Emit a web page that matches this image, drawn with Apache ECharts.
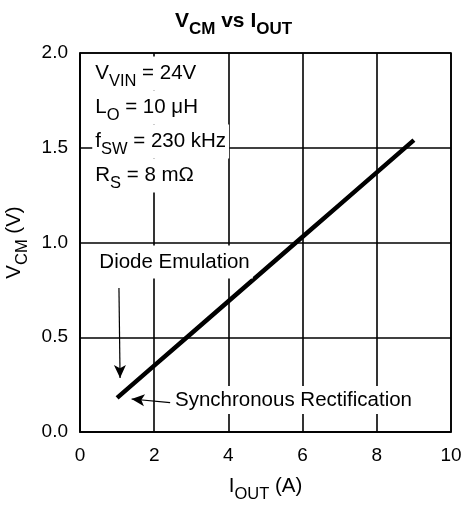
<!DOCTYPE html>
<html><head><meta charset="utf-8">
<script src="https://cdn.jsdelivr.net/npm/echarts@6/dist/echarts.min.js"></script>
<style>html,body{margin:0;padding:0;background:#fff}#c{width:467px;height:507px}</style>
</head><body><div id="c"></div>
<script>
// ---- data ----
const currentA = [1, 2, 3, 4, 5, 6, 7, 8, 9];
const vcmV = [0.18, 0.35, 0.52, 0.69, 0.86, 1.03, 1.20, 1.37, 1.54];
const xTicks = [0, 2, 4, 6, 8, 10];
const yTicks = [0.0, 0.5, 1.0, 1.5, 2.0];
const conditions = [['V', 'VIN', ' = 24V'], ['L', 'O', ' = 10 μH'], ['f', 'SW', ' = 230 kHz'], ['R', 'S', ' = 8 mΩ']];
const labelDiode = 'Diode Emulation';
const labelSync = 'Synchronous Rectification';

// ---- annotation placement (data coordinates) ----
const condAnchor = {x: 0.33, y: [1.892, 1.712, 1.533, 1.354]};
const diodeAnchor = [0.44, 0.897];
const syncAnchor = [2.48, 0.169];
const diodeArrow = [[1.05, 0.76], [1.08, 0.285]];
const syncArrow = [[2.43, 0.155], [1.39, 0.174]];

const FONT = '"Liberation Sans", Arial, Helvetica, sans-serif';
const richSub = (main, sub, lh, bold) => ({
  m: {fontSize: main, lineHeight: lh, color: '#000', fontFamily: FONT, fontWeight: bold ? 'bold' : 'normal'},
  s: {fontSize: sub, lineHeight: sub, padding: [16, 0, 0, 0], color: '#000', fontFamily: FONT, fontWeight: bold ? 'bold' : 'normal'}
});

const chart = echarts.init(document.getElementById('c'), null, {renderer: 'canvas'});
const option = {
  animation: false,
  backgroundColor: '#fff',
  title: {
    text: '{m|V}{s|CM}{m| vs I}{s|OUT}',
    left: 'center', top: 1,
    textStyle: {rich: richSub(21, 17, 30, true)}
  },
  grid: {left: 80, right: 16, top: 53, bottom: 75, show: true, borderColor: '#000', borderWidth: 1.6,
    containLabel: false, outerBoundsMode: 'none'},
  xAxis: {
    type: 'value', min: xTicks[0], max: xTicks[xTicks.length - 1], interval: xTicks[1] - xTicks[0],
    axisLine: {show: true, lineStyle: {color: '#000', width: 1.6}},
    axisTick: {show: false},
    splitLine: {show: true, lineStyle: {color: '#000', width: 1.6}},
    axisLabel: {color: '#000', fontSize: 19, fontFamily: FONT, margin: 14},
    name: '{m|I}{s|OUT}{m| (A)}', nameLocation: 'middle', nameGap: 39,
    nameTextStyle: {rich: richSub(20.5, 16.5, 30, false)}
  },
  yAxis: {
    type: 'value', min: yTicks[0], max: yTicks[yTicks.length - 1], interval: yTicks[1] - yTicks[0],
    axisLine: {show: true, lineStyle: {color: '#000', width: 1.6}},
    axisTick: {show: false},
    splitLine: {show: true, lineStyle: {color: '#000', width: 1.6}},
    axisLabel: {color: '#000', fontSize: 19, fontFamily: FONT, margin: 12, formatter: v => v.toFixed(1)},
    name: '{m|V}{s|CM}{m| (V)}', nameLocation: 'middle', nameGap: 45, nameRotate: 90,
    nameTextStyle: {rich: richSub(20.5, 16.5, 30, false)}
  },
  series: [{
    type: 'line', data: currentA.map((x, i) => [x, vcmV[i]]),
    showSymbol: false, symbol: 'none', silent: true, z: 5,
    lineStyle: {color: '#000', width: 4.5, cap: 'butt'},
    markLine: {
      silent: true, symbol: ['none', 'arrow'], symbolSize: [9, 13],
      label: {show: false},
      lineStyle: {color: '#000', width: 1.2, type: 'solid'},
      data: [
        [{coord: diodeArrow[0]}, {coord: diodeArrow[1]}],
        [{coord: syncArrow[0]}, {coord: syncArrow[1]}]
      ]
    }
  }]
};
chart.setOption(option);

const px = p => chart.convertToPixel({gridIndex: 0}, p);
const graphics = [];
conditions.forEach((c, i) => {
  const p = px([condAnchor.x, condAnchor.y[i]]);
  graphics.push({
    type: 'text', x: p[0], y: p[1], z: 10,
    style: {
      text: '{m|' + c[0] + '}{s|' + c[1] + '}{m|' + c[2] + '}',
      rich: richSub(20.5, 16.5, 34, false),
      align: 'left', verticalAlign: 'middle',
      backgroundColor: '#fff', padding: [0, 3, 0, 3]
    }
  });
});
const pd = px(diodeAnchor);
graphics.push({
  type: 'text', x: pd[0], y: pd[1], z: 10,
  style: {text: labelDiode, font: '20.5px ' + FONT, fill: '#000', lineHeight: 33,
    align: 'left', verticalAlign: 'middle', backgroundColor: '#fff', padding: [0, 3, 0, 3]}
});
const ps = px(syncAnchor);
graphics.push({
  type: 'text', x: ps[0], y: ps[1], z: 10,
  style: {text: labelSync, font: '20.5px ' + FONT, fill: '#000', lineHeight: 28,
    align: 'left', verticalAlign: 'middle', backgroundColor: '#fff', padding: [0, 3, 0, 3]}
});
chart.setOption({graphic: graphics});
</script>
</body></html>
